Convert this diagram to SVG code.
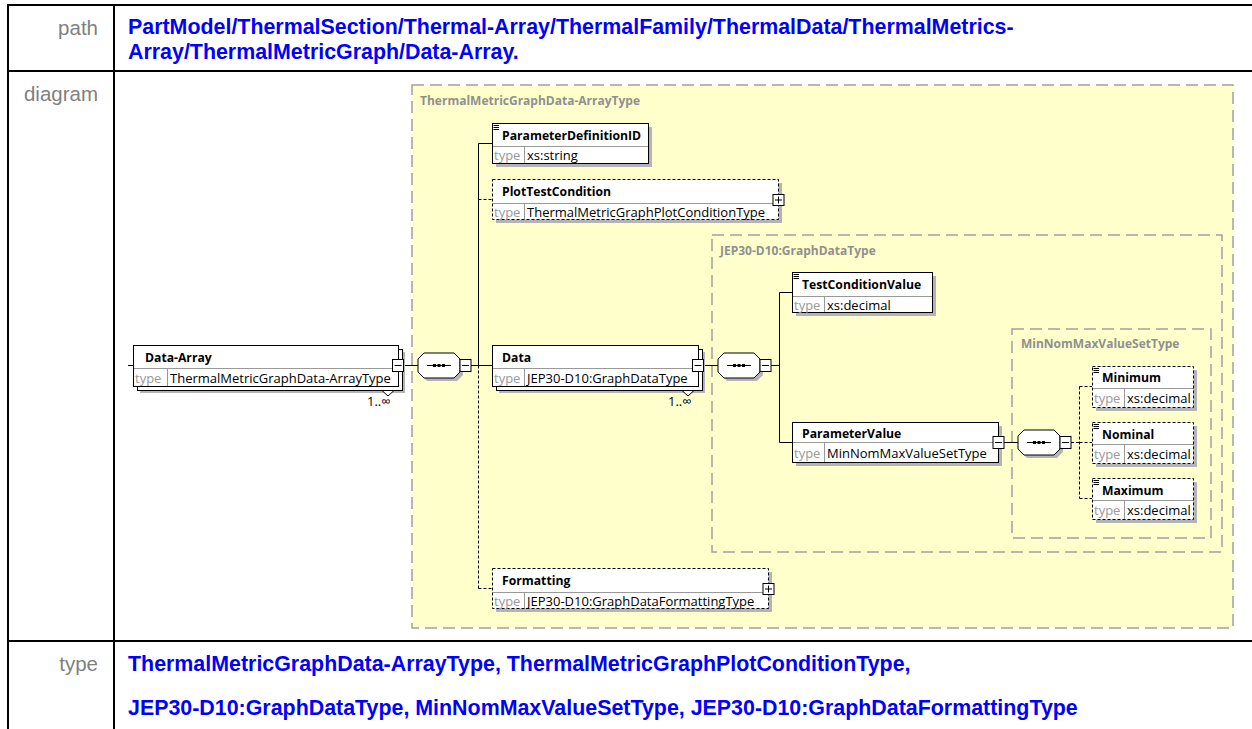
<svg xmlns="http://www.w3.org/2000/svg" width="1252" height="729" viewBox="0 0 1252 729">
  <style>
    .tbl { stroke: #000; stroke-width: 2; fill: none; }
    .lbl { font-family: "Liberation Sans", Arial, sans-serif; font-size: 20.5px; fill: #808080; text-anchor: end; }
    .val { font-family: "Liberation Sans", Arial, sans-serif; font-size: 21.4px; font-weight: bold; fill: #0000ff; }
    .grp { fill: #ffffcc; stroke: #a0a0a0; stroke-width: 1.5; stroke-dasharray: 12 6; }
    .gt { font-family: "Open Sans", sans-serif; font-size: 12px; font-weight: bold; fill: #909090; }
    .sh { fill: #b4b4b4; }
    .box { fill: #fff; stroke: #000; stroke-width: 1; }
    .opt { stroke-dasharray: 3 2; }
    .div { stroke: #999; stroke-width: 1; fill: none; }
    .nm { font-family: "Open Sans", sans-serif; font-size: 12.2px; font-weight: bold; fill: #000; }
    .tl { font-family: "Open Sans", sans-serif; font-size: 13px; fill: #999; }
    .tv { font-family: "Open Sans", sans-serif; font-size: 13px; fill: #000; }
    .occ { font-family: "Open Sans", sans-serif; font-size: 13px; fill: #000; }
    .ln { stroke: #000; stroke-width: 1; fill: none; }
    .dl { stroke-dasharray: 3 2; }
    .doc { stroke: #000; stroke-width: 1; }
  </style>
  <defs>
    <!-- sequence compositor with collapse button, origin at left-middle -->
    <g id="seq">
      <polygon class="sh" points="9,-9 39,-9 45,-3 45,10 39,16 9,16 3,10 3,-3"/>
      <polygon class="box" points="6,-12 36,-12 42,-6 42,7 36,13 6,13 0,7 0,-6"/>
      <line class="ln" x1="9" y1="0.5" x2="33" y2="0.5"/>
      <rect x="15" y="-1" width="3" height="3" fill="#000"/>
      <rect x="19.5" y="-1" width="3" height="3" fill="#000"/>
      <rect x="24" y="-1" width="3" height="3" fill="#000"/>
      <rect class="box" x="42" y="-5.5" width="11" height="12"/>
      <line class="ln" x1="44" y1="0.5" x2="51" y2="0.5"/>
    </g>
    <!-- collapse (minus) button, centred on origin -->
    <g id="minus">
      <rect class="box" x="-5.5" y="-6" width="11" height="12"/>
      <line class="ln" x1="-3.5" y1="0" x2="3.5" y2="0"/>
    </g>
    <!-- expand (plus) button, centred on origin -->
    <g id="plus">
      <rect class="box" x="-5.5" y="-5.5" width="11" height="11"/>
      <line class="ln" x1="-3.5" y1="0" x2="3.5" y2="0"/>
      <line class="ln" x1="0" y1="-3.5" x2="0" y2="3.5"/>
    </g>
    <!-- documentation marker -->
    <g id="doc">
      <line class="doc" x1="1.5" y1="2.5" x2="7" y2="2.5"/>
      <line class="doc" x1="1.5" y1="4.5" x2="7" y2="4.5"/>
      <line class="doc" x1="1.5" y1="6.5" x2="7" y2="6.5"/>
    </g>
  </defs>

  <!-- property table frame -->
  <g id="table">
    <line class="tbl" x1="8" y1="5" x2="1252" y2="5"/>
    <line class="tbl" x1="8" y1="71" x2="1252" y2="71"/>
    <line class="tbl" x1="8" y1="641" x2="1252" y2="641"/>
    <line class="tbl" x1="8" y1="4" x2="8" y2="729"/>
    <line class="tbl" x1="114" y1="4" x2="114" y2="729"/>
    <text class="lbl" x="98" y="35">path</text>
    <text class="val" x="128" y="34">PartModel/ThermalSection/Thermal-Array/ThermalFamily/ThermalData/ThermalMetrics-</text>
    <text class="val" x="128" y="59">Array/ThermalMetricGraph/Data-Array.</text>
    <text class="lbl" x="98" y="101">diagram</text>
    <text class="lbl" x="98" y="671">type</text>
    <text class="val" x="128" y="671">ThermalMetricGraphData-ArrayType, ThermalMetricGraphPlotConditionType,</text>
    <text class="val" x="128" y="715">JEP30-D10:GraphDataType, MinNomMaxValueSetType, JEP30-D10:GraphDataFormattingType</text>
  </g>

  <!-- complex type groups -->
  <g id="group-data-array-type">
    <rect class="grp" x="412" y="85" width="821" height="543"/>
    <text class="gt" x="420" y="105">ThermalMetricGraphData-ArrayType</text>
  </g>
  <g id="group-graph-data-type">
    <rect class="grp" x="712" y="235" width="510" height="317"/>
    <text class="gt" x="720" y="255">JEP30-D10:GraphDataType</text>
  </g>
  <g id="group-min-nom-max">
    <rect class="grp" x="1012" y="329" width="199" height="209"/>
    <text class="gt" x="1021" y="348">MinNomMaxValueSetType</text>
  </g>

  <!-- connectors -->
  <g id="connectors">
    <line class="ln" x1="128" y1="365.5" x2="133" y2="365.5"/>
    <line class="ln" x1="403" y1="365.5" x2="418" y2="365.5"/>
    <line class="ln" x1="471" y1="365.5" x2="478.5" y2="365.5"/>
    <line class="ln" x1="478.5" y1="143.5" x2="478.5" y2="365.5"/>
    <line class="ln" x1="478.5" y1="143.5" x2="492" y2="143.5"/>
    <line class="ln dl" x1="478.5" y1="199.5" x2="492" y2="199.5"/>
    <line class="ln" x1="478.5" y1="365.5" x2="492" y2="365.5"/>
    <line class="ln dl" x1="478.5" y1="365.5" x2="478.5" y2="588.5"/>
    <line class="ln dl" x1="478.5" y1="588.5" x2="492" y2="588.5"/>
    <line class="ln" x1="704" y1="365.5" x2="718" y2="365.5"/>
    <line class="ln" x1="771" y1="365.5" x2="779.5" y2="365.5"/>
    <line class="ln" x1="779.5" y1="292.5" x2="779.5" y2="442.5"/>
    <line class="ln" x1="779.5" y1="292.5" x2="792" y2="292.5"/>
    <line class="ln" x1="779.5" y1="442.5" x2="792" y2="442.5"/>
    <line class="ln" x1="1004" y1="442.5" x2="1018" y2="442.5"/>
    <line class="ln dl" x1="1071" y1="442.5" x2="1079.5" y2="442.5"/>
    <line class="ln dl" x1="1079.5" y1="386.5" x2="1079.5" y2="498.5"/>
    <line class="ln dl" x1="1079.5" y1="386.5" x2="1092" y2="386.5"/>
    <line class="ln dl" x1="1079.5" y1="442.5" x2="1092" y2="442.5"/>
    <line class="ln dl" x1="1079.5" y1="498.5" x2="1092" y2="498.5"/>
  </g>

  <!-- compositors -->
  <g id="seq-data-array"><use href="#seq" transform="translate(418,365)"/></g>
  <g id="seq-data"><use href="#seq" transform="translate(718,365)"/></g>
  <g id="seq-parameter-value"><use href="#seq" transform="translate(1018,442)"/></g>

  <!-- elements -->
  <g id="node-data-array">
    <rect class="sh" x="140" y="352" width="265" height="41"/>
    <rect class="box" x="137.5" y="349.5" width="265" height="41"/>
    <rect class="box" x="133.5" y="345.5" width="265" height="41"/>
    <line class="div" x1="134" y1="368.5" x2="398" y2="368.5"/>
    <line class="div" x1="167.5" y1="369" x2="167.5" y2="386"/>
    <text class="nm" x="145" y="362">Data-Array</text>
    <text class="tl" x="135" y="383">type</text>
    <text class="tv" x="170" y="383">ThermalMetricGraphData-ArrayType</text>
    <use href="#minus" transform="translate(398,365.5)"/>
    <polygon points="382,390.5 388,396 394,390.5" fill="#fff" stroke="#000" stroke-width="1"/>
    <text class="occ" x="367" y="406">1..∞</text>
  </g>

  <g id="node-parameter-definition-id">
    <rect class="sh" x="496" y="127" width="156" height="40"/>
    <rect class="box" x="492.5" y="123.5" width="156" height="40"/>
    <line class="div" x1="493" y1="146.5" x2="648" y2="146.5"/>
    <line class="div" x1="524.5" y1="147" x2="524.5" y2="163"/>
    <use href="#doc" transform="translate(492,123)"/>
    <text class="nm" x="502" y="140">ParameterDefinitionID</text>
    <text class="tl" x="494" y="160">type</text>
    <text class="tv" x="527" y="160">xs:string</text>
  </g>

  <g id="node-plot-test-condition">
    <rect class="sh" x="496" y="183" width="286" height="40"/>
    <rect class="box opt" x="492.5" y="179.5" width="286" height="40"/>
    <line class="div" x1="493" y1="203.5" x2="778" y2="203.5"/>
    <line class="div" x1="524.5" y1="204" x2="524.5" y2="219"/>
    <text class="nm" x="502" y="196">PlotTestCondition</text>
    <text class="tl" x="494" y="217">type</text>
    <text class="tv" x="527" y="217">ThermalMetricGraphPlotConditionType</text>
    <use href="#plus" transform="translate(778.5,200)"/>
  </g>

  <g id="node-data">
    <rect class="sh" x="499" y="352" width="206" height="41"/>
    <rect class="box" x="496.5" y="349.5" width="206" height="41"/>
    <rect class="box" x="492.5" y="345.5" width="206" height="41"/>
    <line class="div" x1="493" y1="368.5" x2="698" y2="368.5"/>
    <line class="div" x1="524.5" y1="369" x2="524.5" y2="386"/>
    <text class="nm" x="502" y="362">Data</text>
    <text class="tl" x="494" y="383">type</text>
    <text class="tv" x="527" y="383">JEP30-D10:GraphDataType</text>
    <use href="#minus" transform="translate(698,365.5)"/>
    <polygon points="682,390.5 688,396 694,390.5" fill="#fff" stroke="#000" stroke-width="1"/>
    <text class="occ" x="668" y="406">1..∞</text>
  </g>

  <g id="node-formatting">
    <rect class="sh" x="496" y="572" width="276" height="40"/>
    <rect class="box opt" x="492.5" y="568.5" width="276" height="40"/>
    <line class="div" x1="493" y1="592.5" x2="768" y2="592.5"/>
    <line class="div" x1="524.5" y1="593" x2="524.5" y2="608"/>
    <text class="nm" x="502" y="585">Formatting</text>
    <text class="tl" x="494" y="606">type</text>
    <text class="tv" x="527" y="606">JEP30-D10:GraphDataFormattingType</text>
    <use href="#plus" transform="translate(768.5,589)"/>
  </g>

  <g id="node-test-condition-value">
    <rect class="sh" x="796" y="276" width="140" height="40"/>
    <rect class="box" x="792.5" y="272.5" width="140" height="40"/>
    <line class="div" x1="793" y1="296.5" x2="932" y2="296.5"/>
    <line class="div" x1="824.5" y1="297" x2="824.5" y2="312"/>
    <use href="#doc" transform="translate(792,272)"/>
    <text class="nm" x="802" y="289">TestConditionValue</text>
    <text class="tl" x="794" y="310">type</text>
    <text class="tv" x="827" y="310">xs:decimal</text>
  </g>

  <g id="node-parameter-value">
    <rect class="sh" x="796" y="426" width="206" height="40"/>
    <rect class="box" x="792.5" y="422.5" width="206" height="40"/>
    <line class="div" x1="793" y1="442.5" x2="998" y2="442.5"/>
    <line class="div" x1="824.5" y1="443" x2="824.5" y2="462"/>
    <text class="nm" x="802" y="438">ParameterValue</text>
    <text class="tl" x="794" y="458">type</text>
    <text class="tv" x="827" y="458">MinNomMaxValueSetType</text>
    <use href="#minus" transform="translate(998.5,442.5)"/>
  </g>

  <g id="node-minimum">
    <rect class="sh" x="1096" y="370" width="101" height="41"/>
    <rect class="box opt" x="1092.5" y="366.5" width="101" height="41"/>
    <line class="div" x1="1093" y1="388.5" x2="1193" y2="388.5"/>
    <line class="div" x1="1124.5" y1="389" x2="1124.5" y2="407"/>
    <use href="#doc" transform="translate(1092,366)"/>
    <text class="nm" x="1102" y="382">Minimum</text>
    <text class="tl" x="1094" y="403">type</text>
    <text class="tv" x="1127" y="403">xs:decimal</text>
  </g>

  <g id="node-nominal">
    <rect class="sh" x="1096" y="426" width="101" height="41"/>
    <rect class="box opt" x="1092.5" y="422.5" width="101" height="41"/>
    <line class="div" x1="1093" y1="444.5" x2="1193" y2="444.5"/>
    <line class="div" x1="1124.5" y1="445" x2="1124.5" y2="463"/>
    <use href="#doc" transform="translate(1092,422)"/>
    <text class="nm" x="1102" y="439">Nominal</text>
    <text class="tl" x="1094" y="459">type</text>
    <text class="tv" x="1127" y="459">xs:decimal</text>
  </g>

  <g id="node-maximum">
    <rect class="sh" x="1096" y="482" width="101" height="41"/>
    <rect class="box opt" x="1092.5" y="478.5" width="101" height="41"/>
    <line class="div" x1="1093" y1="500.5" x2="1193" y2="500.5"/>
    <line class="div" x1="1124.5" y1="501" x2="1124.5" y2="519"/>
    <use href="#doc" transform="translate(1092,478)"/>
    <text class="nm" x="1102" y="495">Maximum</text>
    <text class="tl" x="1094" y="515">type</text>
    <text class="tv" x="1127" y="515">xs:decimal</text>
  </g>
</svg>
